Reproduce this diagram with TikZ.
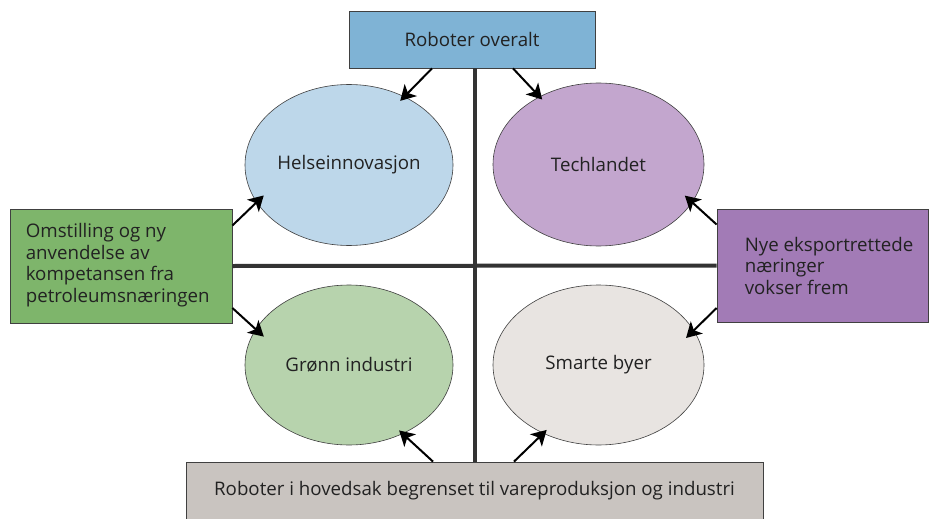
\documentclass[tikz,border=0pt]{standalone}
\usepackage{fontspec}
\setmainfont{Open Sans}
\usetikzlibrary{shapes.geometric,arrows.meta}
\definecolor{topc}{HTML}{7FB3D5}
\definecolor{leftc}{HTML}{7EB56B}
\definecolor{rightc}{HTML}{A27BB6}
\definecolor{botc}{HTML}{C9C4C0}
\definecolor{e1}{HTML}{BDD7EA}
\definecolor{e2}{HTML}{C3A6CE}
\definecolor{e3}{HTML}{B7D3AD}
\definecolor{e4}{HTML}{E8E4E1}
\definecolor{edge}{HTML}{404040}
\definecolor{txt}{HTML}{222222}
\tikzset{
  box/.style={draw=edge, line width=0.8pt, inner sep=0pt, font=\fontsize{18.7}{21.5}\selectfont, text=txt},
  lbl/.style={inner sep=0pt, align=left, font=\fontsize{18.7}{21.5}\selectfont, text=txt},
  oval/.style={ellipse, draw=edge, line width=0.6pt, inner sep=0pt, minimum width=208pt, minimum height=161pt, font=\fontsize{18.7}{21.5}\selectfont, text=txt},
  arr/.style={line width=2pt, -{Stealth[length=15pt,width=17pt,inset=4pt]}},
  cross/.style={line width=4pt, draw=black!80},
}
\begin{document}
\begin{tikzpicture}[x=1pt,y=-1pt]
\useasboundingbox (0,0) rectangle (929,519);
\node[box, fill=topc, minimum width=246pt, minimum height=57pt] (top) at (472,39.5) {Roboter overalt};
\node[box, fill=leftc, minimum width=222pt, minimum height=114pt] (left) at (121,266) {};
\node[lbl, anchor=west] (lefttext) at ([xshift=16pt,yshift=1pt]left.west) {Omstilling og ny\\anvendelse av\\kompetansen fra\\petroleumsnæringen};
\node[box, fill=rightc, minimum width=211pt, minimum height=113pt] (right) at (822.5,265.5) {};
\node[lbl, anchor=west] (righttext) at ([xshift=28pt]right.west) {Nye eksportrettede\\næringer\\vokser frem};
\node[box, fill=botc, minimum width=577pt, minimum height=58pt] (bot) at (474.5,491) {Roboter i hovedsak begrenset til vareproduksjon og industri};
\draw[cross] ([xshift=2.5pt]top.south) -- (bot.north);
\draw[cross] (left.east) -- (right.west);
\node[oval, fill=e1] (helse) at (349,165) {Helseinnovasjon};
\node[oval, fill=e2, minimum width=211pt, minimum height=163pt] (tech) at (598.5,164.5) {Techlandet};
\node[oval, fill=e3, minimum height=160pt] (gron) at (349,365) {Grønn industri};
\node[oval, fill=e4, minimum width=211pt, minimum height=160pt] (smart) at (598.5,365) {Smarte byer};
\draw[arr, shorten >=-6pt] ([xshift=-40pt]top.south) -- (helse.51);
\draw[arr, shorten >=-4pt] ([xshift=41pt]top.south) -- (tech.131);
\draw[arr, shorten >=-10pt] ([yshift=40.5pt]left.east) -- (helse.202);
\draw[arr, shorten >=-11pt] ([yshift=-42pt]left.east) -- (gron.159);
\draw[arr, shorten >=-10pt] ([yshift=41pt]right.west) -- (tech.338);
\draw[arr, shorten >=-11pt] ([yshift=-42.5pt]right.west) -- (smart.20);
\draw[arr, shorten >=-5pt] ([xshift=-41.5pt]bot.north) -- (gron.308);
\draw[arr, shorten >=-5pt] ([xshift=39.5pt]bot.north) -- (smart.231);
\end{tikzpicture}
\end{document}
